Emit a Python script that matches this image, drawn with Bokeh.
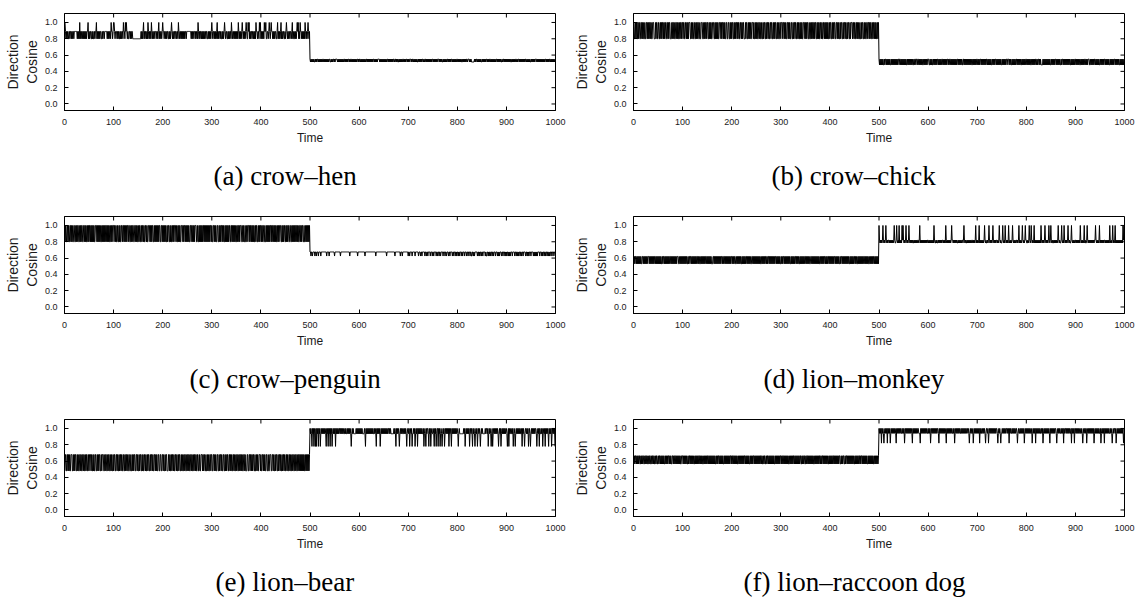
import numpy as np
from bokeh.plotting import figure
from bokeh.models import Range1d, Title, FixedTicker
from bokeh.layouts import column, row
from bokeh.embed import file_html
from bokeh.resources import INLINE

# ---------------- data (level codes) ----------------
time_ticks = [0, 100, 200, 300, 400, 500, 600, 700, 800, 900, 1000]
cos_ticks = [0.0, 0.2, 0.4, 0.6, 0.8, 1.0]

crow_hen_levels = {"0": 0.80, "1": 0.89, "2": 1.00, "3": 0.515, "4": 0.55}
crow_hen_first = (
    "2210101001" "1011010110" "1111110101" "0201011010" "1010101120"
    "1011001010" "0101120101" "0101100101" "1011111010" "1011021101"
    "2210111010" "1001010110" "2110212101" "0011010110" "0000000000"
    "0000001010" "1201011010" "2101010210" "1011011101" "0120101101"
    "2110110101" "1001010121" "0101101101" "1021011010" "1010101101"
    "1111111101" "0101110101" "1021010110" "1010101101" "1001010101"
    "2101101010" "1201011010" "0101012101" "1001010110" "2101101010"
    "1010210101" "0121010101" "2100212010" "1101101010" "2110110212"
    "0101010211" "2001101210" "1211010101" "1001201010" "1201011001"
    "0121010110" "1101201001" "0101212010" "2110101010" "2101012101"
)
crow_hen_second = (
    "4343434343" "3434344343" "4343434434" "3434343434" "4334343443"
    "4344443434" "3434343434" "4343434344" "3434434343" "4343434434"
    "3443434343" "4343443434" "3434343434" "4343434344" "4434343434"
    "3434343443" "4343434343" "4434434343" "3434343434" "4343434434"
    "3434443434" "4343434343" "3434343434" "4343443434" "3434343434"
    "4343434343" "4443434343" "3434343434" "4343434344" "3434343434"
    "4343434343" "3434343434" "4344434343" "3333343434" "4343434343"
    "3434343434" "4343434434" "3434343434" "4343434343" "3434434343"
    "4343434343" "3434343434" "4343443434" "3434343434" "4343434343"
    "3434343434" "4434343434" "3434343434" "4343434344" "3434343434"
)

crow_chick_levels = {"0": 0.80, "1": 0.90, "2": 1.00, "3": 0.48, "4": 0.55}
crow_chick_first = (
    "2200202002" "0220022020" "2002002202" "0202202002" "2200020220"
    "0220020202" "2020220022" "0202200020" "2202002202" "0200202202"
    "2022002202" "0202220020" "2002200202" "0220020022" "2002020220"
    "2200202020" "0222002020" "2020022202" "0220202002" "2002200202"
    "0220020202" "2020220022" "0202200020" "2200202020" "0222020020"
    "2020022020" "0200202200" "2022020022" "0220020202" "2002020022"
    "0222022020" "2002202020" "0220020220" "2200202002" "0202002220"
    "2020220020" "0202022020" "2200202020" "0220200220" "2020202002"
    "0220020202" "2002202020" "0202200202" "2020020220" "0202220220"
    "2002202020" "0200202200" "2020022022" "0202200202" "2020200202"
)
crow_chick_second = (
    "4343434343" "3434434343" "4343343434" "3434343434" "4344343434"
    "3434343343" "4343434343" "3434434434" "4343434343" "3434343434"
    "4433434343" "3434343434" "4343434344" "3434343434" "4343443434"
    "3434343434" "4343434343" "3443434343" "4343434343" "3434343434"
    "4343434434" "3434343434" "4343434343" "3434343443" "4343434343"
    "3434343434" "4344434343" "3434343434" "4343434343" "3434343434"
    "4343434343" "3434343434" "4343443434" "3333434343" "4343434343"
    "3434343434" "4343434343" "3434434343" "4343434343" "3434343434"
    "4343434343" "3434343434" "4343434443" "3434343434" "4343434343"
    "3434343434" "4343434343" "3434343434" "4343434343" "3434343434"
)

crow_penguin_levels = {"0": 0.80, "2": 1.00, "5": 0.675, "6": 0.625}
crow_penguin_first = (
    "2020022020" "0220202002" "2002020220" "0202022002" "2020200202"
    "0220202020" "2002220202" "0202002020" "2020220202" "0200202022"
    "2022020020" "0202002202" "2020202022" "0220020202" "2002202020"
    "0202200202" "2020022020" "0222020202" "2002020202" "0202200220"
    "2020202002" "0220020200" "2020222020" "0202020022" "2020220202"
    "0202002202" "2020202220" "0200202020" "2022020202" "0202020220"
    "2002202020" "0220020202" "2020200202" "0202022002" "2020202020"
    "0202202022" "2002020020" "0202220202" "2020202002" "0220020202"
    "2020220020" "0202020202" "2020220202" "0200202022" "2002020220"
    "0202022002" "2002020202" "0220202002" "2020220020" "0202020202"
)
crow_penguin_second = (
    "5565565555" "6556555655" "5565555555" "5555655556" "5555555555"
    "6555555555" "5565555555" "5555555555" "5655555555" "5555555655"
    "5555555555" "5565555555" "5555555555" "5555655555" "5555555555"
    "5555556555" "5555555555" "5556555555" "5555655565" "5555555555"
    "6556555565" "5555655555" "5655565565" "5555655655" "6555565556"
    "5565555655" "6556556555" "5655565565" "5565565555" "6556555656"
    "5565655565" "5655565556" "5565556556" "6556565555" "5655656556"
    "5565555656" "6556565565" "5655655565" "5565656555" "6556555656"
    "5655656565" "5565555655" "6556565565" "5655655556" "5565656555"
    "6555565656" "5656555565" "5565655655" "6556556565" "5655565556"
)

lion_monkey_levels = {"3": 0.53, "4": 0.62, "0": 0.785, "1": 0.82, "2": 1.00}
lion_monkey_first = (
    "4343443434" "3434343344" "3434343434" "4434343434" "3434434343"
    "4343434334" "3443434343" "4343443434" "3434343434" "4433434343"
    "4343434343" "3434434434" "3434343434" "4343433434" "3434343443"
    "4343434343" "3344343434" "3434343434" "4343443434" "3434343434"
    "4343434433" "4343434343" "3434343434" "4343434343" "3443434343"
    "4343434343" "3434343434" "4343443434" "3434343434" "4343434343"
    "3434344343" "4343434343" "3434343434" "4343434334" "3434343434"
    "4343434343" "3443434343" "4343434343" "3434343434" "4343434434"
    "3434343434" "4343434343" "3434434343" "4343434343" "3434343434"
    "4343433434" "3434343434" "4343434343" "3434343434" "4343434343"
)
lion_monkey_second = (
    "2101010121" "0101210101" "1010101010" "1210012101" "0201010212"
    "1010121010" "1210101010" "0101010101" "1012010101" "0101010101"
    "1010101010" "1021001010" "0101010101" "1010102101" "0101010121"
    "1010101010" "0101010101" "1012101001" "0101010101" "1010101201"
    "0101201010" "1010121010" "0101210101" "0121010101" "1010121010"
    "0121010210" "1010210101" "0121010101" "1010120101" "0121010121"
    "1001012101" "2101012010" "1010101010" "2101010121" "0101012101"
    "2101001010" "1010121010" "0121010210" "1010121010" "0121010101"
    "1010101010" "2101010120" "1001210101" "0101010101" "1210101012"
    "0101010101" "1010101010" "2101012010" "1201010101" "0101010212"
)

lion_bear_levels = {"3": 0.48, "4": 0.68, "0": 0.78, "5": 0.935, "2": 1.00}
lion_bear_first = (
    "3443344343" "4334443343" "4344334343" "3443433443" "4334344334"
    "3444343343" "4334433434" "3443343444" "3343443343" "4433434334"
    "3443344343" "3434434334" "4334344343" "3443343343" "4344334434"
    "3343443343" "4334434334" "3443343443" "4334434343" "3443344334"
    "4343343443" "3344343343" "4434334434" "3343443343" "4334344334"
    "3443433443" "4334344343" "3443343344" "4343443343" "3434334434"
    "4334434343" "3443343443" "4334433434" "3443344343" "4334434334"
    "3443343443" "4343344343" "3344334434" "4343443343" "3434334443"
    "4334434343" "3443343344" "4334434334" "3443343443" "4334344343"
    "3443433443" "4334344334" "3443343443" "4343434343" "3434343434"
)
lion_bear_second = (
    "2525025202" "5020252025" "2052525252" "5250252025" "2025205252"
    "5202525252" "2525252525" "5252552525" "2525052525" "5555252525"
    "2525252555" "5250252525" "2525252525" "5252502525" "2520525252"
    "5252525252" "2525255555" "5252502525" "2505252525" "5252525052"
    "2520525205" "5252052520" "2525252525" "5205250252" "2502520525"
    "5250252052" "2025205250" "5252052525" "2520252502" "5252525252"
    "2505255555" "5552520525" "2525205252" "5025250525" "2052525052"
    "5255555252" "2520525250" "5205252525" "2525052520" "5252525252"
    "2505202525" "5252052505" "2525252525" "5202525052" "2525205250"
    "5252525252" "2505252025" "5252052520" "2525250252" "5205252520"
)

lion_raccoon_levels = {"3": 0.565, "4": 0.665, "0": 0.82, "5": 0.94, "2": 1.00}
lion_raccoon_first = (
    "4343443434" "3443343434" "4334344343" "3434433434" "4343343443"
    "3434434343" "4343343434" "3443434334" "4343443434" "3434343344"
    "4343434343" "3434434343" "4343343434" "3434434343" "4334343434"
    "3443434343" "4343434334" "3434434343" "4343343434" "3434343443"
    "4344343434" "3433434343" "4343434434" "3434343343" "4343443434"
    "3434343434" "4343343443" "3434434343" "4343434334" "3434343434"
    "4343443434" "3434343343" "4343434434" "3434343434" "4334343443"
    "3434434343" "4343434334" "3434343434" "4343443434" "3434343343"
    "4343434434" "3434343434" "4334343443" "3434434343" "4343434343"
    "3434343434" "4343443434" "3434343343" "4343434343" "3434343434"
)
lion_raccoon_second = (
    "2525202525" "0525252025" "2520525252" "5252502525" "2525255252"
    "5205252525" "2525252502" "5252525252" "2555025252" "5252525255"
    "2525205252" "5252525252" "2502525252" "5252525025" "2525252525"
    "5252052525" "2525255252" "5252525252" "2525052525" "5205252525"
    "2525202525" "5252525052" "2520525252" "5252525252" "2505252505"
    "5252525252" "2525202525" "5252525252" "2505255252" "5252520525"
    "2525252525" "5205252520" "2525252525" "5252052525" "2525252502"
    "5252525252" "2505252525" "5252520252" "2525252525" "5202525202"
    "2525252525" "5252505252" "2520525252" "5252525205" "2525252525"
    "5205252520" "2525252525" "5252505252" "2520525252" "5252525205"
)

captions = ["(a) crow\u2013hen", "(b) crow\u2013chick", "(c) crow\u2013penguin",
            "(d) lion\u2013monkey", "(e) lion\u2013bear", "(f) lion\u2013raccoon dog"]
y_label_lines = ["Direction", "Cosine"]
x_label = "Time"

series = [
    (crow_hen_levels, crow_hen_first, crow_hen_second),
    (crow_chick_levels, crow_chick_first, crow_chick_second),
    (crow_penguin_levels, crow_penguin_first, crow_penguin_second),
    (lion_monkey_levels, lion_monkey_first, lion_monkey_second),
    (lion_bear_levels, lion_bear_first, lion_bear_second),
    (lion_raccoon_levels, lion_raccoon_first, lion_raccoon_second),
]

bad = [(i, len(a), len(b)) for i, (_, a, b) in enumerate(series) if len(a) != 500 or len(b) != 500]
if bad:
    raise ValueError("length mismatch: %r" % bad)

SANS = "Liberation Sans"
SERIF = "Liberation Serif"
TXT = "#1a1a1a"
CAP_PX = 27
X_LO, X_HI = 0, 1000
Y_LO, Y_HI = -0.08, 1.11
FRAME_W, FRAME_H = 491, 97
LEFT, RIGHT, TOP = 64, 14, 13

# approximate advance widths (em) of the serif face, used only to centre captions
SERIF_EM = {"(": .333, ")": .333, " ": .25, "a": .444, "b": .5, "c": .444, "d": .5,
            "e": .444, "f": .333, "g": .5, "h": .5, "i": .278, "k": .5, "l": .278,
            "m": .778, "n": .5, "o": .5, "p": .5, "r": .333, "u": .5, "w": .722,
            "y": .5, "\u2013": .5}


def caption_offset(text):
    width = sum(SERIF_EM.get(ch, .5) for ch in text) * CAP_PX
    half_col_center = (LEFT + FRAME_W + RIGHT) / 2.0 - LEFT
    return max(0, int(round(half_col_center - width / 2.0)))


def style_axis(ax):
    ax.axis_line_color = "black"
    ax.major_tick_line_color = "black"
    ax.major_tick_in = 4
    ax.major_tick_out = 0
    ax.minor_tick_line_color = None
    ax.major_label_text_font = SANS
    ax.major_label_text_font_size = "9px"
    ax.major_label_text_color = TXT


def make_panel(levels, first, second, caption, bottom):
    codes = first + second
    ys = [levels[c] for c in codes]
    xs = list(range(len(ys)))
    p = figure(frame_width=FRAME_W, frame_height=FRAME_H,
               x_range=Range1d(X_LO, X_HI), y_range=Range1d(Y_LO, Y_HI),
               min_border_left=LEFT, min_border_right=RIGHT,
               min_border_top=TOP, min_border_bottom=bottom,
               output_backend="svg", toolbar_location=None)
    p.line(xs, ys, line_color="black", line_width=1)
    p.grid.visible = False
    p.outline_line_color = "black"
    p.outline_line_width = 1

    # mirrored inward ticks on the top and right edges (gnuplot style)
    p.ray(x=time_ticks, y=[Y_HI] * len(time_ticks), length=4, length_units="screen",
          angle=-np.pi / 2, line_color="black", line_width=1)
    p.ray(x=[X_HI] * len(cos_ticks), y=cos_ticks, length=4, length_units="screen",
          angle=np.pi, line_color="black", line_width=1)

    xa = p.xaxis[0]
    xa.ticker = FixedTicker(ticks=time_ticks)
    style_axis(xa)
    xa.major_label_standoff = 8
    xa.axis_label = x_label
    xa.axis_label_text_font = SANS
    xa.axis_label_text_font_size = "12px"
    xa.axis_label_text_font_style = "normal"
    xa.axis_label_text_color = TXT
    xa.axis_label_standoff = 3

    ya = p.yaxis[0]
    ya.ticker = FixedTicker(ticks=cos_ticks)
    ya.major_label_overrides = {t: "%.1f" % t for t in cos_ticks}
    style_axis(ya)
    ya.major_label_standoff = 7

    # two-line y label, each line centred along the frame (outer line added last)
    for line_text, sd in ((y_label_lines[1], 3), (y_label_lines[0], 0)):
        p.add_layout(Title(text=line_text, align="center", standoff=sd,
                           text_font=SANS, text_font_size="14px",
                           text_font_style="normal", text_color=TXT), "left")

    cap = Title(text=caption, align="left", offset=caption_offset(caption), standoff=22,
                text_font=SERIF, text_font_size="%dpx" % CAP_PX,
                text_font_style="normal", text_color="black")
    p.add_layout(cap, "below")
    return p


panels = []
for i, (lv, a, b) in enumerate(series):
    bottom = 86 if i >= 4 else 93
    panels.append(make_panel(lv, a, b, captions[i], bottom))

layout = column(row(panels[0], panels[1]), row(panels[2], panels[3]), row(panels[4], panels[5]))

open("out.html", "w").write(file_html(layout, INLINE))
